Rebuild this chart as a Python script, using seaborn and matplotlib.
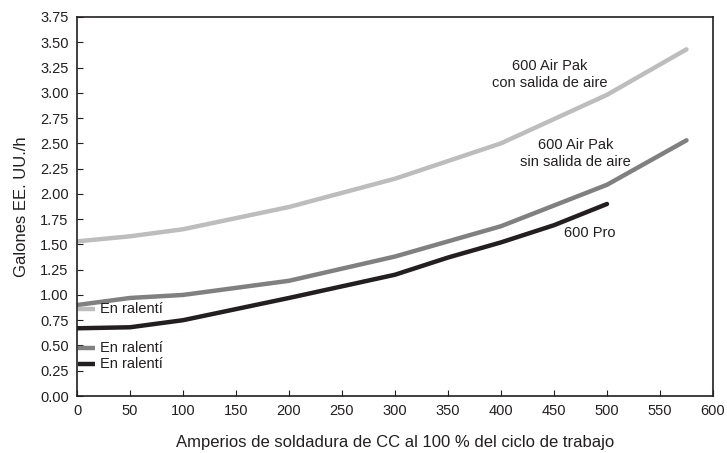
import numpy as np
import pandas as pd
import matplotlib
matplotlib.use("Agg")
import matplotlib.pyplot as plt
import seaborn as sns

# ====================== DATA ======================

amps_con = [0, 50, 100, 200, 300, 400, 500, 575]
gal_con  = [1.53, 1.58, 1.65, 1.87, 2.15, 2.50, 2.98, 3.43]

amps_sin = [0, 50, 100, 200, 300, 400, 500, 575]
gal_sin  = [0.90, 0.97, 1.00, 1.14, 1.38, 1.68, 2.09, 2.53]

amps_pro = [0, 50, 100, 200, 300, 350, 400, 450, 500]
gal_pro  = [0.67, 0.68, 0.75, 0.97, 1.20, 1.37, 1.52, 1.69, 1.90]

series_names  = ["con", "sin", "pro"]
series_labels = ["600 Air Pak\ncon salida de aire", "600 Air Pak\nsin salida de aire", "600 Pro"]
idle_label    = "En ralentí"
idle_y        = [0.86, 0.47, 0.32]

x_ticks = list(range(0, 601, 50))
y_ticks = [i * 0.25 for i in range(16)]

# ====================== STYLE ======================

COLORS = {"con": "#bdbdbd", "sin": "#808080", "pro": "#231f20"}
LABEL_POS = {"con": (446, 3.18), "sin": (470, 2.40), "pro": (484, 1.61)}

sns.set_style("ticks")
plt.rcParams['font.family'] = ['Liberation Sans', 'DejaVu Sans']

df = pd.concat([
    pd.DataFrame({"amps": amps_con, "gal": gal_con, "serie": "con"}),
    pd.DataFrame({"amps": amps_sin, "gal": gal_sin, "serie": "sin"}),
    pd.DataFrame({"amps": amps_pro, "gal": gal_pro, "serie": "pro"}),
])

fig = plt.figure(figsize=(7.27, 4.53), dpi=100)
ax = fig.add_axes([77 / 727, 1 - 396 / 453, 636 / 727, 379 / 453])

sns.lineplot(data=df, x="amps", y="gal", hue="serie", palette=COLORS,
             linewidth=3.2, legend=False, ax=ax, sort=False)

for name, label in zip(series_names, series_labels):
    lx, ly = LABEL_POS[name]
    ax.text(lx, ly, label, ha="center", va="center", fontsize=10.5,
            color="#231f20", linespacing=1.25)

# idle markers
for name, yv in zip(series_names, idle_y):
    ax.plot([1, 17], [yv, yv], color=COLORS[name], linewidth=3.2, solid_capstyle="butt")
    ax.text(22, yv, idle_label, ha="left", va="center", fontsize=10.5, color="#231f20")

ax.set_xlim(0, 600)
ax.set_ylim(0, 3.75)
ax.set_xticks(x_ticks)
ax.set_yticks(y_ticks)
ax.set_yticklabels([f"{v:.2f}" for v in y_ticks])
ax.tick_params(direction="in", length=4, labelsize=10.5, colors="#231f20", pad=6)

for sp in ax.spines.values():
    sp.set_visible(True)
    sp.set_linewidth(1.2)
    sp.set_color("#231f20")

ax.set_xlabel("Amperios de soldadura de CC al 100 % del ciclo de trabajo",
              fontsize=12, color="#231f20", labelpad=12)
ax.set_ylabel("Galones EE. UU./h", fontsize=12, color="#231f20", labelpad=8)

plt.savefig("out.png", dpi=100)
